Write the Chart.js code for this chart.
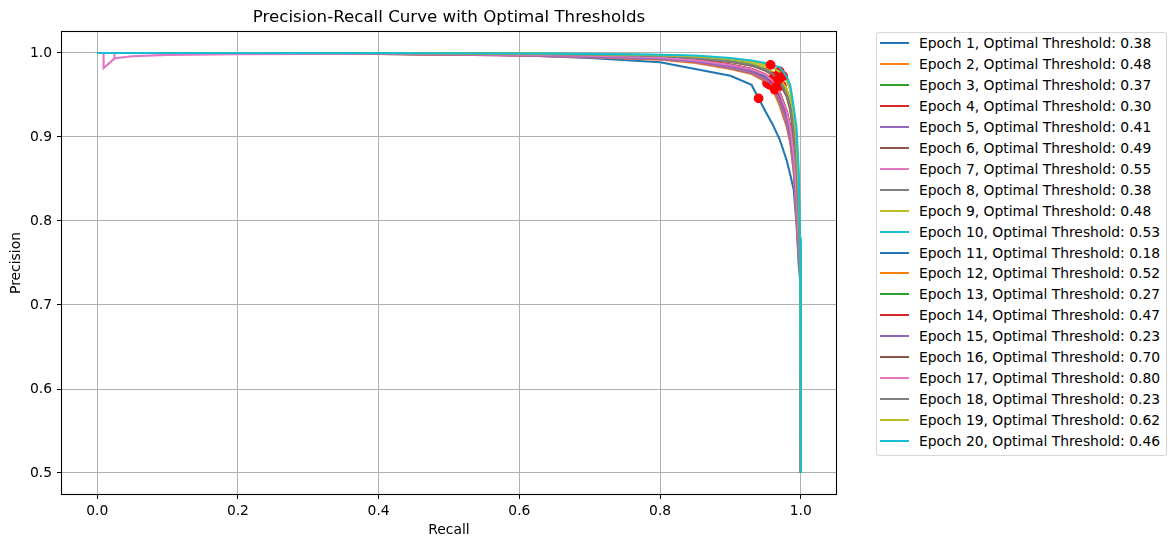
<!DOCTYPE html>
<html>
<head>
<meta charset="utf-8">
<script src="https://cdn.jsdelivr.net/npm/chart.js@4.4.1/dist/chart.umd.min.js"></script>
<style>
  html, body { margin: 0; padding: 0; background: #fff; }
  #wrap { position: relative; width: 1176px; height: 547px; }
  #legend { position: absolute; left: 876px; top: 32px; width: 291px; height: 424px; box-sizing: border-box;
            border: 1px solid #d6d6d6; border-radius: 3px; background: #fff;
            font-family: 'DejaVu Sans'; font-size: 13.89px; color: #000; }
  .row { position: absolute; left: 0; height: 16px; line-height: 16px; white-space: nowrap; }
  .sw { position: absolute; left: 3px; top: 7px; width: 29px; height: 2px; }
  .lb { position: absolute; left: 42px; top: 0; }
</style>
</head>
<body>
<div id="wrap">
  <canvas id="c" width="1176" height="547"></canvas>
  <div id="legend"></div>
</div>
<script>
// ---------- data ----------
const chartTitle = 'Precision-Recall Curve with Optimal Thresholds';
const xAxisTitle = 'Recall';
const yAxisTitle = 'Precision';
const xTicks = [0.0, 0.2, 0.4, 0.6, 0.8, 1.0];
const yTicks = [0.5, 0.6, 0.7, 0.8, 0.9, 1.0];

const epochs = [1,2,3,4,5,6,7,8,9,10,11,12,13,14,15,16,17,18,19,20];
const thresholds = ['0.38','0.48','0.37','0.30','0.41','0.49','0.55','0.38','0.48','0.53',
                    '0.18','0.52','0.27','0.47','0.23','0.70','0.80','0.23','0.62','0.46'];
const colors = ['#1f77b4','#ff7f0e','#2ca02c','#d62728','#9467bd','#8c564b','#e377c2','#7f7f7f','#bcbd22','#17becf'];

// shared recall grid (precision arrays below are read at these recall values)
const recallGrid = [0, 0.009, 0.0091, 0.024, 0.0241, 0.025, 0.05, 0.1, 0.2, 0.4, 0.6, 0.7, 0.8, 0.85, 0.9, 0.93,
                    0.95, 0.96, 0.97, 0.98, 0.985, 0.99, 0.994, 0.997, 0.999, 1.0];

const precisionEpoch1  = [1,1,1,1,1,1,1,1, .9995,.999,.9975,.994,.989,.981,.973,.962,.930,.915,.897,.872,.855,.837,.795,.748,.73,.5];
const precisionEpoch2  = [1,1,1,1,1,1,1,1, .9995,.999,.997,.995,.992,.988,.981,.975,.966,.957,.937,.912,.893,.857,.80,.76,.735,.5];
const precisionEpoch3  = [1,1,1,1,1,1,1,1, .9998,.9995,.998,.997,.995,.992,.986,.981,.974,.967,.953,.930,.912,.880,.830,.780,.745,.5];
const precisionEpoch4  = [1,1,1,1,1,1,1,1, .9997,.9993,.9975,.996,.994,.990,.984,.979,.971,.965,.948,.925,.905,.872,.82,.77,.74,.5];
const precisionEpoch5  = [1,1,1,1,1,1,1,1, .9996,.999,.997,.995,.9925,.989,.982,.976,.967,.958,.940,.914,.895,.860,.805,.762,.737,.5];
const precisionEpoch6  = [1,1,1,1,1,1,1,1, .9998,.9995,.998,.9968,.9948,.9915,.9855,.980,.973,.966,.952,.929,.910,.878,.828,.778,.744,.5];
const precisionEpoch7  = [1,1,1,1,1,1,1,1, 1,.9997,.9988,.998,.9965,.994,.990,.986,.980,.975,.966,.950,.935,.905,.86,.80,.755,.5];
const precisionEpoch8  = [1,1,1,1,1,1,1,1, 1,.9998,.999,.9983,.997,.995,.991,.987,.982,.977,.970,.956,.942,.915,.872,.815,.76,.5];
const precisionEpoch9  = [1,1,1,1,1,1,1,1, 1,.9998,.999,.9985,.9972,.9952,.9915,.9875,.9825,.9775,.9705,.957,.944,.918,.875,.818,.762,.5];
const precisionEpoch10 = [1,1,1,1,1,1,1,1, 1,1,.9993,.9988,.9975,.996,.993,.990,.986,.983,.978,.968,.957,.93,.895,.84,.77,.5];
const precisionEpoch11 = [1,1,1,1,1,1,1,1, .9998,.9995,.998,.9965,.9945,.991,.985,.980,.9725,.9655,.952,.928,.909,.876,.826,.776,.743,.5];
const precisionEpoch12 = [1,1,1,1,1,1,1,1, .9997,.9992,.9973,.9955,.993,.9895,.983,.9775,.9685,.960,.942,.918,.898,.864,.81,.765,.738,.5];
const precisionEpoch13 = [1,1,1,1,1,1,1,1, 1,.9997,.9988,.998,.9963,.9938,.9895,.9855,.9795,.9745,.9655,.949,.934,.903,.858,.80,.755,.5];
const precisionEpoch14 = [1,1,1,1,1,1,1,1, .9998,.9995,.998,.9968,.995,.9918,.9862,.9812,.9745,.9675,.9535,.931,.913,.882,.832,.782,.746,.5];
const precisionEpoch15 = [1,1,1,1,1,1,1,1, .9997,.9992,.9974,.9956,.9932,.99,.9835,.978,.9695,.9615,.944,.92,.90,.866,.812,.767,.739,.5];
const precisionEpoch16 = [1,1,1,1,1,1,1,1, 1,.9997,.9987,.9978,.9962,.9935,.9893,.985,.9788,.9737,.9645,.948,.932,.90,.855,.798,.754,.5];
const precisionEpoch17 = [1,1,.982,.993,1,.9937,.9962,.9978, .9985,.9993,.998,.9967,.9947,.9913,.9857,.9807,.9738,.9668,.9525,.9295,.911,.879,.829,.779,.745,.5];
const precisionEpoch18 = [1,1,1,1,1,1,1,1, 1,.9997,.9988,.998,.9964,.9939,.9898,.9858,.98,.975,.9665,.9505,.9355,.906,.861,.801,.756,.5];
const precisionEpoch19 = [1,1,1,1,1,1,1,1, 1,1,.9993,.9987,.9975,.9958,.9928,.9898,.9855,.9825,.9775,.9675,.956,.928,.892,.835,.768,.5];
const precisionEpoch20 = [1,1,1,1,1,1,1,1, 1,1,.9995,.999,.998,.997,.994,.991,.988,.985,.983,.972,.962,.935,.91,.86,.78,.5];

// optimal-threshold points (recall, precision) for each epoch
const optimalRecall    = [.940,.952,.962,.958,.955,.965,.973,.970,.968,.970,.961,.958,.966,.9613,.963,.962,.965,.968,.975,.957];
const optimalPrecision = [.946,.9642,.964,.9662,.9625,.959,.961,.970,.9719,.978,.9642,.9617,.9694,.9657,.9563,.9719,.9597,.9682,.9725,.9859];

const precisionByEpoch = [precisionEpoch1, precisionEpoch2, precisionEpoch3, precisionEpoch4, precisionEpoch5,
  precisionEpoch6, precisionEpoch7, precisionEpoch8, precisionEpoch9, precisionEpoch10, precisionEpoch11,
  precisionEpoch12, precisionEpoch13, precisionEpoch14, precisionEpoch15, precisionEpoch16, precisionEpoch17,
  precisionEpoch18, precisionEpoch19, precisionEpoch20];

// ---------- chart ----------
const FONT = 'DejaVu Sans';
Chart.defaults.font.family = FONT;
Chart.defaults.font.size = 13.89;
Chart.defaults.color = '#000';

const datasets = [];
epochs.forEach((ep, i) => {
  const color = colors[i % colors.length];
  datasets.push({
    label: `Epoch ${ep}, Optimal Threshold: ${thresholds[i]}`,
    data: recallGrid.map((r, j) => ({x: r, y: precisionByEpoch[i][j]})),
    showLine: true, borderColor: color, backgroundColor: color, borderWidth: 2.08,
    pointRadius: 0, pointHoverRadius: 0, tension: 0, order: 100 - 2 * ep
  });
  datasets.push({
    label: '_dot' + ep,
    data: [{x: optimalRecall[i], y: optimalPrecision[i]}],
    showLine: false, pointRadius: 4.2, pointBorderWidth: 1.4,
    pointBackgroundColor: '#ff0000', pointBorderColor: '#ff0000', order: 99 - 2 * ep
  });
});

const overlay = {
  id: 'overlay',
  afterDatasetsDraw(chart) {
    const {ctx, chartArea: a} = chart;
    ctx.save();
    ctx.strokeStyle = '#000';
    ctx.lineWidth = 1.1;
    ctx.strokeRect(a.left - 0.5, a.top - 0.5, a.right - a.left + 1, a.bottom - a.top + 1);
    ctx.restore();
  },
  afterDraw(chart) {
    const {ctx, chartArea: a} = chart;
    ctx.save();
    ctx.fillStyle = '#000';
    ctx.font = `16.67px "${FONT}"`;
    ctx.textAlign = 'center';
    ctx.textBaseline = 'middle';
    ctx.fillText(chartTitle, (a.left + a.right) / 2, 18);
    ctx.restore();
  }
};

new Chart(document.getElementById('c'), {
  type: 'scatter',
  data: { datasets },
  plugins: [overlay],
  options: {
    responsive: false, animation: false, devicePixelRatio: 1,
    layout: { padding: { top: 32, right: 340, left: 0, bottom: 0 } },
    plugins: { legend: { display: false }, tooltip: { enabled: false }, title: { display: false } },
    scales: {
      x: {
        type: 'linear', min: -0.05, max: 1.05,
        afterBuildTicks: s => { s.ticks = xTicks.map(v => ({value: v})); },
        afterFit: s => { s.height = 53; },
        ticks: { callback: v => Number(v).toFixed(1), padding: 4, maxRotation: 0, autoSkip: false, color: '#000' },
        grid: { color: '#b0b0b0', lineWidth: 1, tickLength: 5, tickColor: '#000', drawTicks: true },
        border: { display: false },
        title: { display: true, text: xAxisTitle, color: '#000', padding: { top: 0, bottom: 8 } }
      },
      y: {
        type: 'linear', min: 0.475, max: 1.025,
        afterBuildTicks: s => { s.ticks = yTicks.map(v => ({value: v})); },
        afterFit: s => { s.width = 62; },
        ticks: { callback: v => Number(v).toFixed(1), padding: 5, autoSkip: false, color: '#000' },
        grid: { color: '#b0b0b0', lineWidth: 1, tickLength: 5, tickColor: '#000', drawTicks: true },
        border: { display: false },
        title: { display: true, text: yAxisTitle, color: '#000', padding: { top: 8, bottom: 0 } }
      }
    }
  }
});

// ---------- legend (HTML, real text) ----------
const legend = document.getElementById('legend');
epochs.forEach((ep, i) => {
  const row = document.createElement('div');
  row.className = 'row';
  row.style.top = (43 + i * 20.95 - 32 - 1 - 8) + 'px';
  const sw = document.createElement('div');
  sw.className = 'sw';
  sw.style.background = colors[i % colors.length];
  const lb = document.createElement('div');
  lb.className = 'lb';
  lb.textContent = `Epoch ${ep}, Optimal Threshold: ${thresholds[i]}`;
  row.appendChild(sw); row.appendChild(lb);
  legend.appendChild(row);
});
</script>
</body>
</html>
